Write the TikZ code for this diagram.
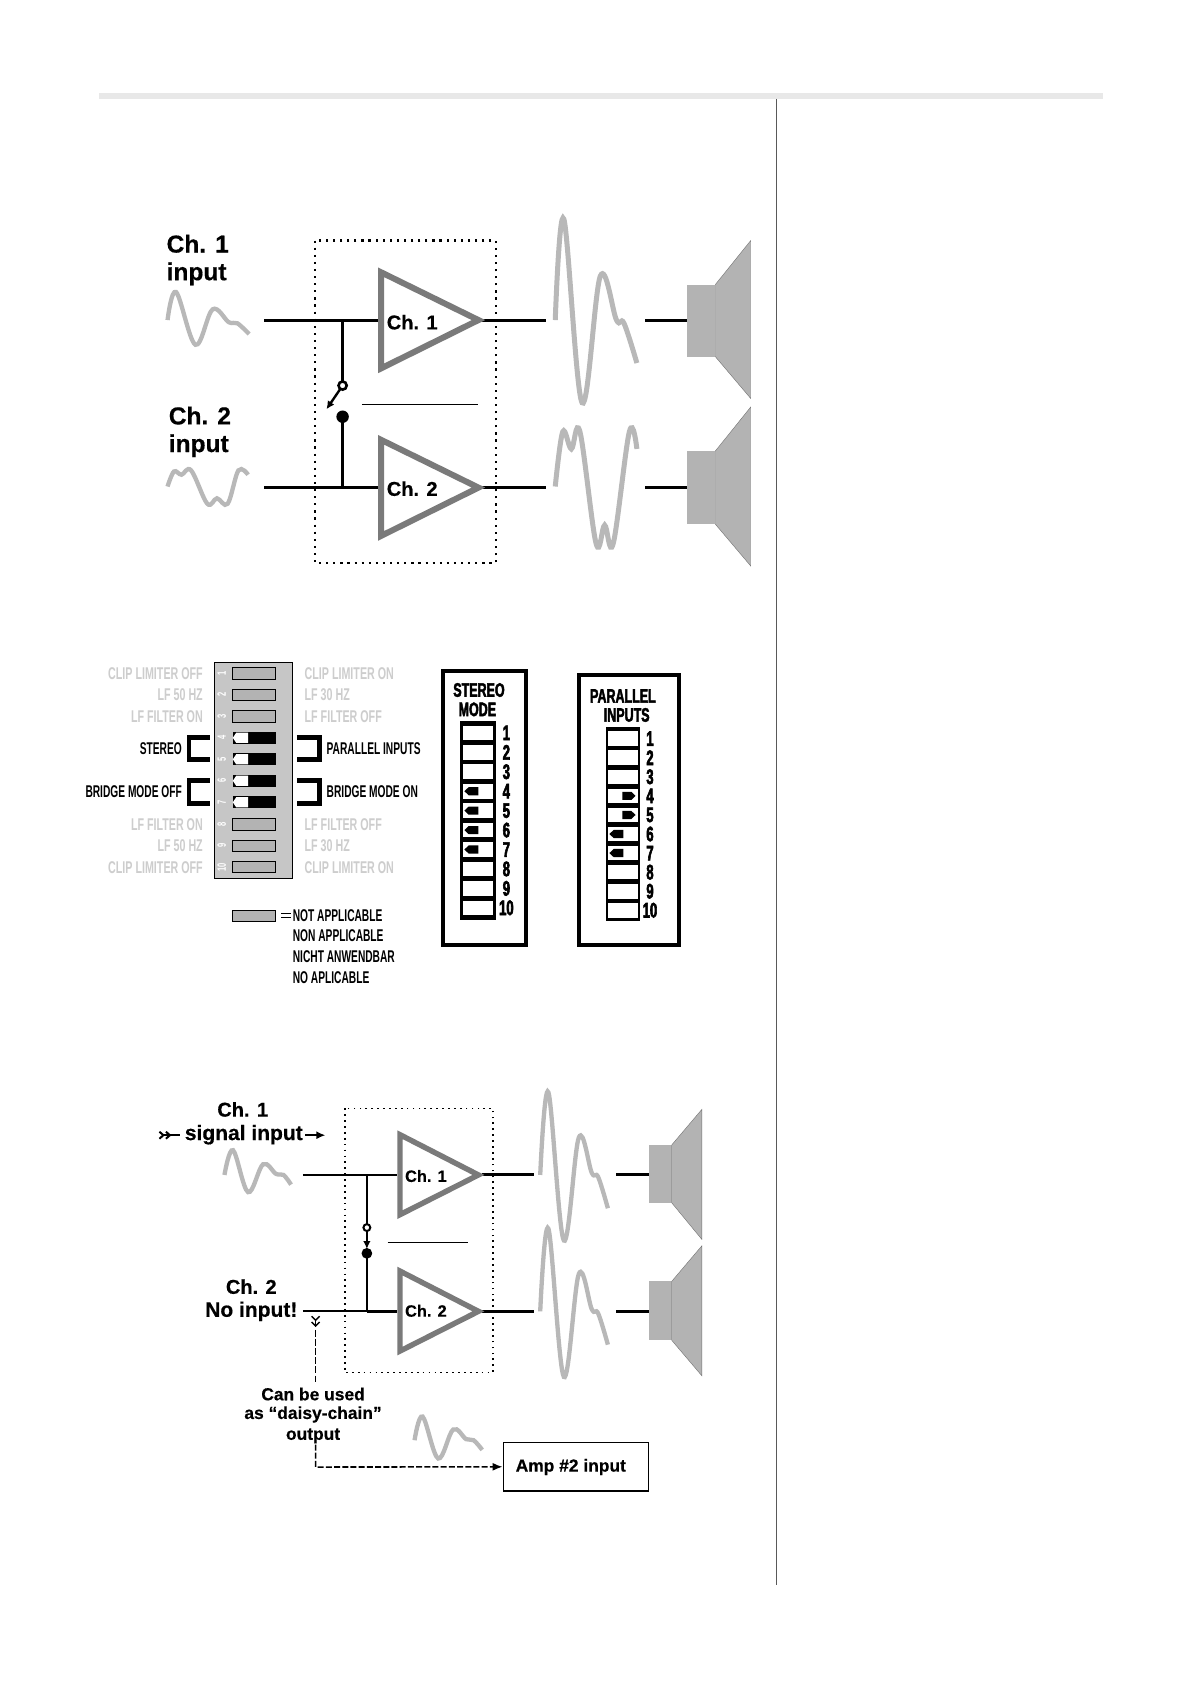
\documentclass[tikz,border=0pt]{standalone}
\usepackage{fontspec}
\usetikzlibrary{arrows.meta}
\setmainfont{Liberation Sans}[BoldFeatures={FakeBold=0.5}]
\newfontfamily\din[FakeStretch=0.63]{Liberation Sans Bold}
\newfontfamily\dinblk[FakeStretch=0.60]{Liberation Sans Bold}
\newfontfamily\dinb[FakeStretch=0.64,FakeBold=2.2]{Liberation Sans Bold}
\newfontfamily\dinn[FakeStretch=0.62,FakeBold=2.8]{Liberation Sans Bold}
\definecolor{wavegray}{HTML}{B8B8B8}
\definecolor{ampgray}{HTML}{7A7A7A}
\definecolor{spkgray}{HTML}{B3B3B3}
\definecolor{blockgray}{HTML}{C6C6C6}
\definecolor{lblgray}{HTML}{CDCDCD}
\newcommand{\fs}[1]{\fontsize{#1}{#1}\selectfont}
\tikzset{
  sig/.style={draw=black,line width=3pt},
  sigthin/.style={draw=black,line width=2.2pt},
  amp/.style={draw=ampgray,line width=6pt,miter limit=4,line join=miter},
  wave/.style={draw=wavegray,line width=5pt,line cap=butt},
  wavesmall/.style={draw=wavegray,line width=4.3pt,line cap=butt},
  spk/.style={fill=spkgray,draw=black!55,line width=0.4pt},
  dotbox/.style={draw=black,line width=2.2pt,dash pattern=on 2.2pt off 4.9pt},
  dotboxs/.style={draw=black,line width=1.7pt,dash pattern=on 1.7pt off 4.2pt},
  big/.style={inner sep=0,font=\bfseries\fs{24.5}},
  med/.style={inner sep=0,font=\bfseries\fs{21}},
  medb/.style={inner sep=0,font=\bfseries\fs{20}},
  small/.style={inner sep=0,font=\bfseries\fs{17.4}},
  ampl/.style={inner sep=0,font=\bfseries\fs{16.4}},
  grayl/.style={inner sep=0,text=lblgray,font=\din\fs{17}},
  blackl/.style={inner sep=0,text=black,font=\dinblk\fs{17}},
  dipnum/.style={inner sep=0,text=white,font=\din\fs{12},rotate=90},
  title/.style={inner sep=0,font=\dinb\fs{19.5}},
  num/.style={inner sep=0,font=\dinn\fs{21}},
  bracket/.style={draw=black,line width=4.6pt,line join=miter},
  dip/.style={fill=spkgray,draw=black,line width=0.9pt},
  win/.style={fill=white,draw=none},
}
\newcommand{\spk}[4]{% x of rect left, rect top, rect bottom, name
  \fill[spkgray] (#1,#2) rectangle (#1+26,#3);
  \path[spk] (#1+26,#2) -- (#1+59,#2-41) -- (#1+59,#3+39) -- (#1+26,#3) -- cycle;
}
\begin{document}
\begin{tikzpicture}[x=1.074pt,y=-1.074pt]
\useasboundingbox (0,0) rectangle (1108,1568);
\fill[white] (0,0) rectangle (1108,1568);
% page rules
\fill[black!9] (92,87) rectangle (1027,92);
\draw[black!65,line width=1.6pt] (723,92) -- (723,1476);

%%% ---------- DIAGRAM 1 ----------
\draw[dotbox] (293,224) rectangle (462,524);
\node[big,anchor=west] (t1a) at (155,227) {Ch. 1};
\node[big,anchor=west] (t1b) at (155,255) {input};
\node[big,anchor=west] (t2a) at (157,387) {Ch. 2};
\node[big,anchor=west] (t2b) at (157,415) {input};
% amps
\coordinate (a1w) at (352,298); \coordinate (a1e) at (449,298);
\coordinate (a2w) at (352,454); \coordinate (a2e) at (449,454);
\coordinate (in1) at (246,298); \coordinate (in2) at (246,454);
\coordinate (out1) at (508,298); \coordinate (out2) at (508,454);
\coordinate (sp1a) at (601,298); \coordinate (sp1b) at (640,298);
\coordinate (sp2a) at (601,454); \coordinate (sp2b) at (640,454);
\coordinate (j1) at (319,298); \coordinate (j2) at (319,454);
\coordinate (swo) at (319,359); \coordinate (swf) at (319,388);
\coordinate (swtip) at (304,381);
\coordinate (lnA) at (337,377); \coordinate (lnB) at (445,377);
\draw[sig] (in1) -- (a1w); \draw[sig] (a1e) -- (out1); \draw[sig] (sp1a) -- (sp1b);
\draw[sig] (in2) -- (a2w); \draw[sig] (a2e) -- (out2); \draw[sig] (sp2a) -- (sp2b);
\draw[sig] (j1) -- (swo); \draw[sig] (swf) -- (j2);
\draw[black,line width=0.8pt] (lnA) -- (lnB);
\draw[black,line width=2.4pt,-{Latex[length=8pt,width=8pt]}] (swo) -- (swtip);
\draw[black,line width=2.6pt,fill=white] (swo) circle (3.8);
\fill[black] (swf) circle (5.8);
\draw[amp,fill=white] (354.8,253.5) -- (445.5,298) -- (354.8,343) -- cycle;
\draw[amp,fill=white] (354.8,409.5) -- (445.5,454) -- (354.8,499) -- cycle;
\node[medb,anchor=west] (c1) at (360,300) {Ch. 1};
\node[medb,anchor=west] (c2) at (360,455) {Ch. 2};
% speakers
\spk{640}{265}{332}{a}
\spk{640}{420}{488}{b}
% waves
\draw[wavesmall] plot[smooth,tension=0.6] coordinates {(156,298) (164,272) (182,321) (198,288) (213,300) (221,301) (232,311)};
\draw[wavesmall] plot[smooth,tension=0.6] coordinates {(156,453) (162,439) (169,442) (178,438) (193,469) (202,464) (212,469) (222,438) (231,442)};
\draw[wave] plot[smooth,tension=0.6] coordinates {(517,298) (525,204) (542,375) (559,257) (574,298) (581,301) (593,338)};
\draw[wave] plot[smooth,tension=0.6] coordinates {(517,453) (524,402) (532,418) (540,402) (555,506) (563,489) (571,506) (586,402) (593,418)};

%%% ---------- DIP BLOCK ----------
\draw[black,line width=0.9pt,fill=blockgray] (200,617) rectangle (272,818);
\foreach \n/\y in {1/627,2/647,3/667,8/767.5,9/787.5,10/807.5}{
  \path[dip] (216.5,\y-5.3) rectangle (256.5,\y+5.3);
}
\foreach \n/\y in {4/687,5/707,6/727,7/747}{
  \fill[black] (216.5,\y-5.6) rectangle (256.7,\y+5.6);
  \fill[white] (216.8,\y) -- (220,\y-4.8) -- (231,\y-4.8) -- (231,\y+4.8) -- (220,\y+4.8) -- cycle;
}
\foreach \n/\y in {1/627,2/647,3/667,4/687,5/707,6/727,7/747,8/767.5,9/787.5,10/807.5}{
  \node[dipnum] (d\n) at (206.5,\y) {\n};
}
\foreach \t/\y [count=\i] in {CLIP LIMITER OFF/627,LF 50 HZ/647,LF FILTER ON/667,LF FILTER ON/767.5,LF 50 HZ/787.5,CLIP LIMITER OFF/807.5}{
  \node[grayl,anchor=east] (gl\i) at (189,\y) {\t};
}
\foreach \t/\y [count=\i] in {CLIP LIMITER ON/627,LF 30 HZ/647,LF FILTER OFF/667,LF FILTER OFF/767.5,LF 30 HZ/787.5,CLIP LIMITER ON/807.5}{
  \node[grayl,anchor=west] (gr\i) at (283.5,\y) {\t};
}
\node[blackl,anchor=east] (ls) at (169.5,697) {STEREO};
\node[blackl,anchor=east] (lb) at (169.5,737) {BRIDGE MODE OFF};
\node[blackl,anchor=west] (rp) at (304,697) {PARALLEL INPUTS};
\node[blackl,anchor=west] (rb) at (304,737) {BRIDGE MODE ON};
\draw[bracket] (195.5,686.5) -- (176,686.5) -- (176,707) -- (195.5,707);
\draw[bracket] (195.5,727) -- (176,727) -- (176,748) -- (195.5,748);
\draw[bracket] (276.5,686.5) -- (297.5,686.5) -- (297.5,707) -- (276.5,707);
\draw[bracket] (276.5,727) -- (297.5,727) -- (297.5,748) -- (276.5,748);
% legend
\path[dip] (216.5,847.5) rectangle (256.5,857.5);
\draw[black,line width=0.7pt] (262,850.5) -- (270.5,850.5) (262,854.5) -- (270.5,854.5);
\node[blackl,anchor=west] (n1) at (272.5,852.6) {NOT APPLICABLE};
\node[blackl,anchor=west] (n2) at (272.5,871.6) {NON APPLICABLE};
\node[blackl,anchor=west] (n3) at (272.5,890.7) {NICHT ANWENDBAR};
\node[blackl,anchor=west] (n4) at (272.5,910) {NO APLICABLE};

%%% ---------- MODE PANELS ----------
\draw[black,line width=4pt] (412.7,625.2) rectangle (489.4,880);
\node[title] (s1) at (446,642.5) {STEREO};
\node[title] (s2) at (444.5,660.5) {MODE};
\fill[black] (428.3,671.3) rectangle (461.5,856.6);
\foreach \n in {1,...,10}{
  \pgfmathsetmacro{\y}{682.4+(\n-1)*18.1}
  \fill[win] (430.8,\y-6.8) rectangle (459.3,\y+6.8);
  \node[num] (na\n) at (471.5,\y) {\n};
}
\foreach \n in {4,5,6,7}{
  \pgfmathsetmacro{\y}{682.4+(\n-1)*18.1}
  \fill[black] (432.4,\y) -- (436.4,\y-3.8) -- (445.4,\y-3.8) -- (445.4,\y+3.8) -- (436.4,\y+3.8) -- cycle;
}
\draw[black,line width=4pt] (539,628.8) rectangle (632,879.6);
\node[title] (p1) at (580,648) {PARALLEL};
\node[title] (p2) at (583.5,665.7) {INPUTS};
\fill[black] (564.2,676.6) rectangle (595.9,857.2);
\foreach \n in {1,...,10}{
  \pgfmathsetmacro{\y}{687.8+(\n-1)*17.75}
  \fill[win] (566.4,\y-6.8) rectangle (594,\y+6.8);
  \node[num] (nb\n) at (605.2,\y) {\n};
}
\foreach \n in {4,5}{
  \pgfmathsetmacro{\y}{687.8+(\n-1)*17.75}
  \fill[black] (591.8,\y) -- (587.8,\y-3.8) -- (579.5,\y-3.8) -- (579.5,\y+3.8) -- (587.8,\y+3.8) -- cycle;
}
\foreach \n in {6,7}{
  \pgfmathsetmacro{\y}{687.8+(\n-1)*17.75}
  \fill[black] (567.4,\y) -- (571.4,\y-3.8) -- (580.4,\y-3.8) -- (580.4,\y+3.8) -- (571.4,\y+3.8) -- cycle;
}

%%% ---------- DIAGRAM 3 ----------
\draw[dotboxs] (321,1032) rectangle (459,1278);
\coordinate (b1w) at (370,1094); \coordinate (b1e) at (449,1094);
\coordinate (b2w) at (370,1221); \coordinate (b2e) at (449,1221);
\coordinate (bin1) at (282,1094); \coordinate (bin2) at (282,1221);
\coordinate (bout1) at (497,1094); \coordinate (bout2) at (497,1221);
\coordinate (bs1a) at (574,1094); \coordinate (bs1b) at (604,1094);
\coordinate (bs2a) at (574,1221); \coordinate (bs2b) at (604,1221);
\coordinate (bj1) at (341.6,1094); \coordinate (bj2) at (341.6,1221);
\coordinate (bso) at (341.6,1143); \coordinate (bsf) at (341.6,1167);
\coordinate (bst) at (341.6,1163);
\coordinate (blA) at (361,1157); \coordinate (blB) at (436,1157);
\draw[sigthin] (bin1) -- (b1w); \draw[sig] (b1e) -- (bout1); \draw[sig] (bs1a) -- (bs1b);
\draw[sigthin] (bin2) -- (bj2); \draw[sig] (bj2) -- (b2w); \draw[sig] (b2e) -- (bout2); \draw[sig] (bs2a) -- (bs2b);
\draw[sigthin] (bj1) -- (bso); \draw[sigthin] (bsf) -- (bj2);
\draw[black,line width=0.8pt] (blA) -- (blB);
\draw[black,line width=2.4pt,-{Latex[length=8pt,width=7.5pt]}] (bso) -- (bst);
\draw[black,line width=2pt,fill=white] (bso) circle (3.2);
\fill[black] (bsf) circle (5);
\draw[amp,line width=5.4pt,fill=white] (372.4,1056.5) -- (445.5,1094) -- (372.4,1131) -- cycle;
\draw[amp,line width=5.4pt,fill=white] (372.4,1183.5) -- (445.5,1221) -- (372.4,1258) -- cycle;
\node[ampl,anchor=west] (bc1) at (377,1095) {Ch. 1};
\node[ampl,anchor=west] (bc2) at (377,1220.5) {Ch. 2};
% speakers
\fill[spkgray] (604,1066) rectangle (625.5,1120);
\path[spk] (625.5,1066) -- (653.5,1033) -- (653.5,1154) -- (625.5,1120) -- cycle;
\fill[spkgray] (604,1193) rectangle (625.5,1248);
\path[spk] (625.5,1193) -- (653.5,1160) -- (653.5,1281) -- (625.5,1248) -- cycle;
% waves
\draw[wavesmall] plot[smooth,tension=0.6] coordinates {(209,1094) (217,1071) (231,1110) (245,1084) (257,1093) (264,1094) (271,1103)};
\draw[wavesmall] plot[smooth,tension=0.6] coordinates {(386,1341) (393.5,1319) (408,1358) (422,1331) (434,1340) (441,1341) (449,1350)};
\draw[wavesmall] plot[smooth,tension=0.6] coordinates {(503,1094) (510.6,1017) (525,1155) (539,1059) (551,1092) (557,1096) (566,1125)};
\draw[wavesmall] plot[smooth,tension=0.6] coordinates {(503,1221) (510.6,1144) (525,1282) (539,1186) (551,1219) (557,1223) (566,1252)};
% labels
\node[medb] (bt1) at (226,1033) {Ch. 1};
\node[med] (bt2) at (227,1056.5) {signal input};
\node[medb] (bt3) at (234,1198) {Ch. 2};
\node[med] (bt4) at (234,1221) {No input!};
\coordinate (ar1a) at (147.5,1057); \coordinate (ar1b) at (168,1057);
\coordinate (ar2a) at (284,1057); \coordinate (ar2b) at (303,1057);
\draw[black,line width=2pt,{Straight Barb[reversed,length=4pt,width=7pt]Straight Barb[reversed,length=4pt,width=7pt]}-] (ar1a) -- (ar1b);
\draw[black,line width=2pt,-{Latex[length=9pt,width=8pt]}] (ar2a) -- (ar2b);
\node[small] (bc) at (291.5,1298) {Can be used};
\node[small] (bd) at (291.5,1317) {as “daisy-chain”};
\node[small] (be) at (291.5,1337) {output};
\coordinate (ds) at (293.9,1225); \coordinate (dm) at (293.9,1287);
\coordinate (dt) at (293.9,1345); \coordinate (dc) at (293.9,1366);
\node[draw=black,line width=1.6pt,minimum width=135pt*1.074,minimum height=45pt*1.074,inner sep=0,anchor=north west] (ampb) at (468,1342.5) {};
\node[small,anchor=west] (ampt) at (480,1366) {Amp \#2 input};
\draw[black,line width=1.4pt,dash pattern=on 7pt off 2.2pt,{Straight Barb[reversed,length=4pt,width=8pt]Straight Barb[reversed,length=4pt,width=8pt]}-] (ds) -- (dm);
\draw[black,line width=1.6pt,dash pattern=on 6pt off 2.2pt,-{Latex[length=10pt,width=8pt]}] (dt) -- (dc) -- (ampb.west);
\end{tikzpicture}
\end{document}
